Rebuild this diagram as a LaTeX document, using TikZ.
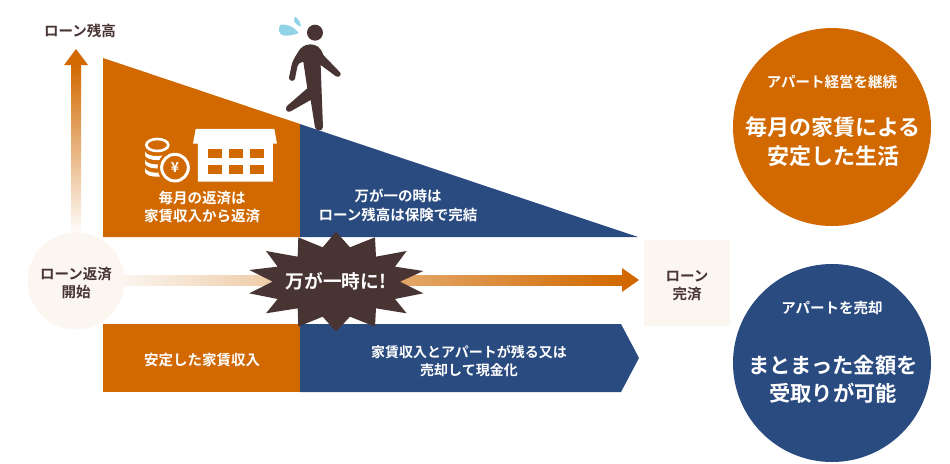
\documentclass[tikz,border=0pt]{standalone}
\usepackage{fontspec}
\setmainfont{Noto Sans CJK JP}[BoldFont={Noto Sans CJK JP Bold}]
\definecolor{org}{HTML}{D16900}
\definecolor{blu}{HTML}{2A4B80}
\definecolor{brn}{HTML}{483433}
\definecolor{pale}{HTML}{FBF6F0}
\definecolor{drop}{HTML}{93D3E8}
\tikzset{
  lab/.style={font=\fontsize{14.5}{18.5}\selectfont\bfseries,align=center,text=white,inner sep=0pt},
  dark/.style={lab,text=brn},
  big/.style={font=\fontsize{22}{29}\selectfont\bfseries,align=center,text=white,inner sep=0pt},
  disc/.style={circle,minimum size=198pt,inner sep=0pt},
  icon/.style={shift={(130,10)},x=0.3333pt,y=-0.3333pt}
}
\begin{document}
\begin{tikzpicture}[x=1pt,y=-1pt]
\useasboundingbox (0,0) rectangle (950,463);
% axis arrows
\shade[bottom color=white,top color=org] (71,235) rectangle (81,65);
\fill[org] (76,49) -- (88,65) -- (64,65) -- cycle;
\shade[left color=pale,right color=org] (120,275) rectangle (622,285);
\fill[org] (639,280) -- (622,268) -- (622,292) -- cycle;
% balance triangle
\fill[org] (103,58) -- (300,124) -- (300,237) -- (103,237) -- cycle;
\fill[blu] (300,124) -- (638,237) -- (300,237) -- cycle;
% lower bar
\fill[org] (103,324) rectangle (300,392);
\fill[blu] (300,324) -- (621,324) -- (639,358) -- (621,392) -- (300,392) -- cycle;
% start / end
\node[circle,fill=pale,minimum size=97pt,inner sep=0pt] (start) at (76,281) {};
\node[dark] (startl) at (76,283) {ローン返済\\開始};
\node[fill=pale,minimum size=86pt,inner sep=0pt] (end) at (687,283) {};
\node[dark] (endl) at (687,285.5) {ローン\\完済};
% burst
\fill[brn,shift={(230,225)},x=0.3333pt,y=-0.3333pt]
 (318,20)--(360,67)--(435,37)--(438,95)--(530,78)--(495,125)--(580,138)--(510,170)--(580,205)--(495,222)--(530,265)--(438,250)--(435,305)--(360,275)--(318,320)--(278,275)--(205,305)--(203,250)--(108,265)--(143,222)--(58,205)--(128,170)--(58,135)--(143,125)--(108,78)--(203,95)--(205,37)--(278,67)--cycle;
\node[font=\fontsize{18.7}{20}\selectfont\bfseries,text=white,inner sep=0pt] (burst) at (336,281) {万が一時に!};
% labels
\node[dark] (axis) at (80,31) {ローン残高};
\node[lab] (l1) at (202,207) {毎月の返済は\\家賃収入から返済};
\node[lab] (l2) at (398,205.5) {万が一の時は\\ローン残高は保険で完結};
\node[lab] (l3) at (202,360) {安定した家賃収入};
\node[lab,font=\fontsize{14}{18.5}\selectfont\bfseries] (l4) at (469,361) {家賃収入とアパートが残る又は\\売却して現金化};
% right discs
\node[disc,fill=org] (d1) at (832,127) {};
\node[disc,fill=blu] (d2) at (832,363) {};
\node[lab] (d1a) at (832,82) {アパート経営を継続};
\node[big] (d1b) at (833,142) {毎月の家賃による\\安定した生活};
\node[lab] (d2a) at (832,308) {アパートを売却};
\node[big,font=\fontsize{21.3}{28.5}\selectfont\bfseries] (d2b) at (833,379.5) {まとまった金額を\\受取りが可能};
% man
\begin{scope}[icon]
\fill[brn] (555,68) circle (24);
\fill[brn] (540,103) .. controls (522,104) and (510,115) .. (505,125)
  .. controls (495,140) and (487,155) .. (485,165) -- (477,203)
  .. controls (476,214) and (494,216) .. (495,206)
  -- (502,170) .. controls (506,160) and (512,156) .. (520,155)
  -- (532,235) -- (471,288) .. controls (463,297) and (472,310) .. (482,304)
  -- (542,270) -- (555,352) .. controls (558,364) and (578,364) .. (579,352)
  -- (572,165) -- (618,199) .. controls (628,204) and (636,194) .. (630,187)
  -- (580,135) .. controls (572,112) and (560,103) .. (540,103) -- cycle;
\fill[drop] (506,69) .. controls (490,48) and (470,42) .. (452,44) .. controls (442,56) and (446,74) .. (462,77) .. controls (478,78) and (494,74) .. (506,69) -- cycle;
\fill[drop] (513,50) .. controls (512,38) and (506,26) .. (495,20) .. controls (487,32) and (496,44) .. (513,50) -- cycle;
% building
\fill[white] (197,357) -- (433,357) -- (441,401) -- (429,401) -- (429,515) -- (204,515) -- (204,401) -- (189,401) -- cycle;
\foreach \wx in {233,296,359} \foreach \wy in {417,465} \fill[org] (\wx,\wy) rectangle ++(42,28);
% coins
\foreach \d in {0,25,50}
  \fill[white] (45,424+\d) -- (45,436+\d) .. controls (50,455+\d) and (112,455+\d) .. (119,436+\d) -- (119,424+\d) .. controls (112,443+\d) and (50,443+\d) .. (45,424+\d) -- cycle;
\draw[white,line width=2.6pt] (82,405) ellipse (33 and 18);
\fill[org] (135,473) circle (52);
\draw[white,line width=3pt] (135,473) circle (40);
\node[font=\fontsize{14}{14}\selectfont\bfseries,text=white,inner sep=0pt] (yen) at (135,473) {¥};
\end{scope}
\end{tikzpicture}
\end{document}
